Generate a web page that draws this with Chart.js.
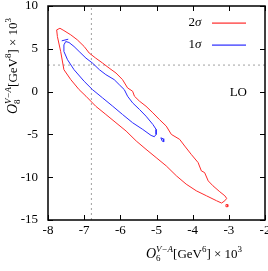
<!DOCTYPE html>
<html>
<head>
<meta charset="utf-8">
<script src="https://cdn.jsdelivr.net/npm/chart.js@4"></script>
<style>
  html, body { margin: 0; padding: 0; background: #fff; }
  #wrap { width: 268px; height: 271px; }
</style>
</head>
<body>
<div id="wrap"><canvas id="c" width="268" height="271"></canvas></div>
<script>
// --- data ---
const xTicks = [-8, -7, -6, -5, -4, -3, -2];
const yTicks = [-15, -10, -5, 0, 5, 10];

// 2 sigma contour (red)
const sigma2X = [-7.76, -7.67, -7.56, -7.37, -7.19, -7.00, -6.86, -6.68, -6.49, -6.31, -6.12, -5.94, -5.80, -5.66, -5.61, -5.47, -5.29, -5.10, -4.92, -4.73, -4.59, -4.36, -4.22, -4.04, -3.85, -3.76, -3.67, -3.57, -3.44, -3.25, -3.11, -3.06, -3.11, -3.20, -3.34, -3.62, -3.90, -4.18, -4.45, -4.73, -5.01, -5.29, -5.56, -5.84, -6.12, -6.40, -6.68, -6.95, -7.14, -7.37, -7.56, -7.65, -7.74, -7.76];
const sigma2Y = [7.21, 7.40, 7.13, 6.63, 6.05, 5.27, 4.50, 3.91, 3.33, 2.75, 2.17, 1.40, 0.43, 0.04, -0.54, -1.12, -1.71, -2.48, -3.26, -4.03, -5.00, -5.58, -6.36, -7.33, -8.29, -9.26, -9.46, -10.43, -11.00, -11.70, -12.17, -12.48, -12.75, -13.02, -12.75, -12.17, -11.59, -10.81, -9.84, -8.68, -7.71, -6.74, -5.77, -4.61, -3.64, -2.67, -1.71, -0.54, 0.23, 1.40, 2.56, 4.69, 6.43, 7.21];
const sigma2IslandX = [-3.08, -3.03, -3.03, -3.08, -3.08];
const sigma2IslandY = [-13.2, -13.2, -13.45, -13.45, -13.2];

// 1 sigma contour (blue)
const sigma1X = [-7.51, -7.42, -7.28, -7.14, -6.95, -6.77, -6.58, -6.40, -6.17, -6.03, -5.89, -5.80, -5.66, -5.47, -5.29, -5.10, -5.01, -5.01, -5.06, -5.15, -5.38, -5.66, -5.94, -6.21, -6.49, -6.77, -7.00, -7.28, -7.46, -7.56, -7.56, -7.51];
const sigma1Y = [5.85, 5.74, 5.27, 4.69, 3.91, 3.33, 2.56, 1.98, 1.40, 0.81, 0.23, -0.54, -1.32, -2.09, -2.87, -3.84, -4.42, -5.00, -5.27, -5.12, -4.42, -3.64, -2.67, -1.71, -0.74, 0.23, 1.20, 2.56, 3.72, 4.69, 5.46, 5.85];
const sigma1DashX = [-7.62, -7.44];
const sigma1DashY = [5.93, 6.12];
const sigma1IslandX = [-4.88, -4.82, -4.80, -4.84, -4.88];
const sigma1IslandY = [-5.40, -5.50, -5.85, -5.80, -5.40];

// best-fit crosshair
const bestX = -6.8;
const bestY = 3.1;

const legendLabels = ['2σ', '1σ'];
const RED = '#ff2a2a';
const BLUE = '#2a2aff';
const SERIF = '"Liberation Serif", "DejaVu Serif", serif';

function pts(xs, ys) {
    return xs.map((x, i) => ({ x: x, y: ys[i] }));
}

function line(data, color, extra) {
    return Object.assign({
        data: data, showLine: true, borderColor: color, borderWidth: 1,
        pointRadius: 0, tension: 0, fill: false
    }, extra || {});
}

// draws a run of text pieces, e.g. O with stacked sub/sup
function drawMath(ctx, pieces, cx, cy) {
    const fonts = { n: '13px ' + SERIF, i: 'italic 14px ' + SERIF, s: '9px ' + SERIF, si: 'italic 9px ' + SERIF };
    let total = 0;
    pieces.forEach(p => {
        let w = 0;
        p.forEach(q => { ctx.font = fonts[q.f]; w = Math.max(w, ctx.measureText(q.t).width); });
        total += w;
    });
    let x = cx - total / 2;
    ctx.textAlign = 'left';
    ctx.textBaseline = 'alphabetic';
    pieces.forEach(p => {
        let w = 0;
        p.forEach(q => {
            ctx.font = fonts[q.f];
            ctx.fillText(q.t, x, cy + (q.dy || 0));
            w = Math.max(w, ctx.measureText(q.t).width);
        });
        x += w;
    });
}

function titlePieces(n) {
    return [
        [{ t: 'O', f: 'i' }],
        [{ t: 'V−A', f: 'si', dy: -6 }, { t: n, f: 's', dy: 3 }],
        [{ t: '[GeV', f: 'n' }],
        [{ t: n, f: 's', dy: -6 }],
        [{ t: '] × 10', f: 'n' }],
        [{ t: '3', f: 's', dy: -6 }]
    ];
}

const decor = {
    id: 'decor',
    afterDraw(chart) {
        const ctx = chart.ctx;
        const a = chart.chartArea;
        const xs = chart.scales.x, ys = chart.scales.y;
        ctx.save();
        // frame
        ctx.strokeStyle = '#000';
        ctx.lineWidth = 1.5;
        ctx.strokeRect(a.left, a.top, a.right - a.left, a.bottom - a.top);
        // inward ticks on all four sides
        ctx.lineWidth = 1;
        ctx.beginPath();
        xTicks.forEach(v => {
            const px = Math.round(xs.getPixelForValue(v)) + 0.5;
            ctx.moveTo(px, a.bottom); ctx.lineTo(px, a.bottom - 5);
            ctx.moveTo(px, a.top); ctx.lineTo(px, a.top + 5);
        });
        yTicks.forEach(v => {
            const py = Math.round(ys.getPixelForValue(v)) + 0.5;
            ctx.moveTo(a.left, py); ctx.lineTo(a.left + 5, py);
            ctx.moveTo(a.right, py); ctx.lineTo(a.right - 5, py);
        });
        ctx.stroke();

        // tick labels
        ctx.fillStyle = '#000';
        ctx.font = '13px ' + SERIF;
        ctx.textBaseline = 'middle';
        ctx.textAlign = 'center';
        xTicks.forEach(v => ctx.fillText(String(v), xs.getPixelForValue(v), a.bottom + 11));
        ctx.textAlign = 'right';
        yTicks.forEach(v => ctx.fillText(String(v), a.left - 10, ys.getPixelForValue(v)));

        // legend
        [RED, BLUE].forEach((c, i) => {
            const y = 23 + i * 21.5;
            ctx.fillStyle = '#000';
            ctx.textAlign = 'right';
            ctx.font = '13px ' + SERIF;
            ctx.fillText(legendLabels[i].charAt(0), 195, y);
            ctx.font = 'italic 13px ' + SERIF;
            ctx.textAlign = 'left';
            ctx.fillText(legendLabels[i].charAt(1), 195, y);
            ctx.fillStyle = c;
            ctx.fillRect(212, Math.round(y) - 0.5, 34, 1.2);
        });
        ctx.fillStyle = '#000';
        ctx.font = '13px ' + SERIF;
        ctx.textAlign = 'right';
        ctx.fillText('LO', 247, 93);

        // axis titles
        drawMath(ctx, titlePieces('6'), 194, 258);
        ctx.translate(17, 66);
        ctx.rotate(-Math.PI / 2);
        drawMath(ctx, titlePieces('8'), 0, 0);
        ctx.restore();
    }
};

new Chart(document.getElementById('c'), {
    type: 'scatter',
    data: {
        datasets: [
            line(pts(sigma2X, sigma2Y), RED),
            line(pts(sigma2IslandX, sigma2IslandY), RED),
            line(pts(sigma1X, sigma1Y), BLUE),
            line(pts(sigma1DashX, sigma1DashY), BLUE),
            line(pts(sigma1IslandX, sigma1IslandY), BLUE),
            line([{ x: bestX, y: yTicks[0] }, { x: bestX, y: yTicks[yTicks.length - 1] }], '#a0a0a0', { borderDash: [2, 3] }),
            line([{ x: xTicks[0], y: bestY }, { x: xTicks[xTicks.length - 1], y: bestY }], '#a0a0a0', { borderDash: [2, 3] })
        ]
    },
    options: {
        responsive: false,
        animation: false,
        events: [],
        layout: { padding: { top: 6, right: 3, left: 0, bottom: 0 } },
        plugins: { legend: { display: false }, tooltip: { enabled: false } },
        scales: {
            x: {
                type: 'linear', min: -8, max: -2,
                afterFit: s => { s.height = 51; },
                grid: { display: false, drawTicks: false },
                border: { display: false },
                ticks: { display: false, stepSize: 1 }
            },
            y: {
                type: 'linear', min: -15, max: 10,
                afterFit: s => { s.width = 48; },
                grid: { display: false, drawTicks: false },
                border: { display: false },
                ticks: { display: false, stepSize: 5 }
            }
        }
    },
    plugins: [decor]
});
</script>
</body>
</html>
